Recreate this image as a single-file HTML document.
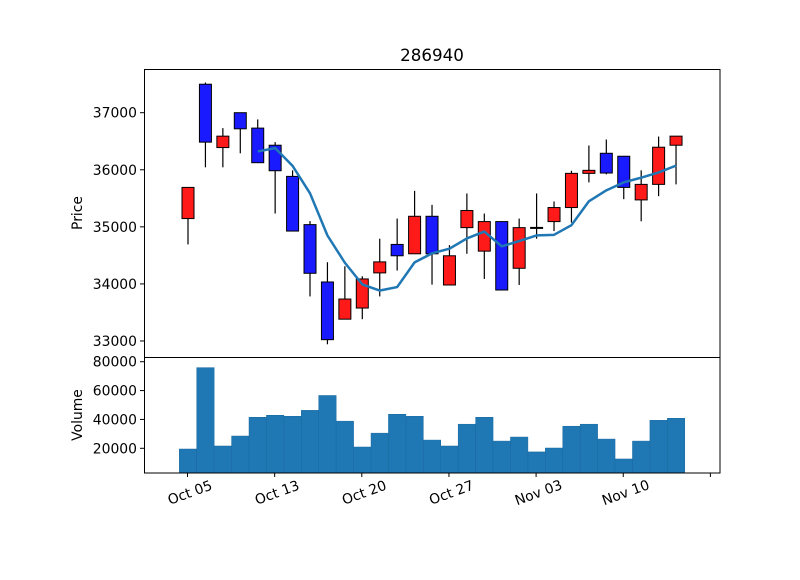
<!DOCTYPE html>
<html><head><meta charset="utf-8"><style>
body{margin:0;background:#fff;}
svg text{font-family:"DejaVu Sans","Liberation Sans",sans-serif;fill:#000;}
</style></head><body>
<svg id="chart" width="800" height="575" xmlns="http://www.w3.org/2000/svg">
<rect width="800" height="575" fill="#fff"/>
<text x="432" y="61" font-size="16.7" text-anchor="middle">286940</text>
<g id="price"></g>
<g id="vol"></g>
<g id="xax"></g>
<rect x="144.5" y="69.5" width="575.5" height="288" fill="none" stroke="#000" stroke-width="1"/>
<rect x="144.5" y="357.5" width="575.5" height="115.5" fill="none" stroke="#000" stroke-width="1"/>
<text transform="translate(82,213) rotate(-90)" font-size="13.9" text-anchor="middle">Price</text>
<text transform="translate(82,415) rotate(-90)" font-size="13.9" text-anchor="middle">Volume</text>
</svg>
<script>
const opens  = [35145,37499,36389,37000,36730,36430,35884,35039,34034,33382,33577,34193,34692,34528,35185,33981,34986,34574,35092,34274,34990,35092,35338,35937,36289,36237,35472,35744,36430];
const closes = [35691,36484,36589,36718,36124,35983,34926,34186,33023,33735,34087,34386,34493,35185,34528,34493,35286,35092,33893,34986,34990,35338,35937,35990,35943,35691,35744,36395,36589];
const highs  = [35691,37529,36730,37000,36882,36484,35990,35100,34380,34310,34134,34792,35145,35631,35385,34679,35585,35233,35092,35145,35585,35444,35983,36425,36530,36237,35990,36582,36589];
const lows   = [34692,36043,36043,36289,36124,35233,34926,33781,32942,33382,33382,33781,34234,34528,33987,33981,34528,34087,33893,33981,34792,34926,35074,35779,35920,35485,35097,35537,35744];
const volumes= [19500,75900,21600,28500,41500,42900,42200,46300,56600,38800,20900,30500,43600,42200,25700,21600,36700,41500,25000,27800,17500,20200,35300,36700,26400,12600,25000,39400,40800];
const priceTicks = [33000,34000,35000,36000,37000];
const volTicks = [20000,40000,60000,80000];
const xTickIdx = [0,5,10,15,20,25,30];
const xTickLabels = ["Oct 05","Oct 13","Oct 20","Oct 27","Nov 03","Nov 10",""];
const NS="http://www.w3.org/2000/svg";
function X(i){return 188+i*17.43;}
function PY(p){return 112.7+(37000-p)*0.05707;}
function VY(v){return 448.3-(v-20000)*0.001443;}
function mk(parent,tag,attrs){const e=document.createElementNS(NS,tag);for(const k in attrs)e.setAttribute(k,attrs[k]);parent.appendChild(e);return e;}
const P=document.getElementById('price'),V=document.getElementById('vol'),XA=document.getElementById('xax');
volumes.forEach((v,i)=>{
  const r=mk(V,'rect',{x:X(i)-8.7,y:VY(v),width:17.43,height:473-VY(v),fill:'#1f77b4',stroke:'#1a6aa0','stroke-width':0.5});
  
  
});
opens.forEach((o,i)=>{
  const c=closes[i],up=c>=o;
  const w=mk(P,'line',{x1:X(i),x2:X(i),y1:PY(highs[i]),y2:PY(lows[i]),stroke:'#000','stroke-width':1.2});
  
  
  const top=PY(Math.max(o,c)),bot=PY(Math.min(o,c));
  const b=mk(P,'rect',{x:X(i)-6,y:top,width:12,height:Math.max(bot-top,1),fill:up?'#ff1a1a':'#1a1aff',stroke:'#000','stroke-width':1});
  
  
});
let pts=[];
for(let i=4;i<closes.length;i++){let s=0;for(let j=i-4;j<=i;j++)s+=closes[j];pts.push(X(i)+','+PY(s/5));}
const ma=mk(P,'polyline',{points:pts.join(' '),fill:'none',stroke:'#1f77b4','stroke-width':2.5,'stroke-linejoin':'round'});


priceTicks.forEach(t=>{
  const y=PY(t);
  mk(P,'line',{x1:140,x2:144,y1:y,y2:y,stroke:'#000'});
  const tx=mk(P,'text',{x:137,y:y+5,'font-size':13.9,'text-anchor':'end'});tx.textContent=t;
  
  
});
volTicks.forEach(t=>{
  const y=VY(t);
  mk(V,'line',{x1:140,x2:144,y1:y,y2:y,stroke:'#000'});
  const tx=mk(V,'text',{x:137,y:y+5,'font-size':13.9,'text-anchor':'end'});tx.textContent=t;
  
  
});
xTickIdx.forEach((k,n)=>{
  const x=X(k)-0.5;
  mk(XA,'line',{x1:x,x2:x,y1:473,y2:477,stroke:'#000'});
  if(xTickLabels[n]){
    const tx=mk(XA,'text',{transform:`translate(${x+4},${497}) rotate(-20)`,'font-size':13.9,'text-anchor':'middle'});
    tx.textContent=xTickLabels[n];
    
    
  }
});
</script>
</body></html>
